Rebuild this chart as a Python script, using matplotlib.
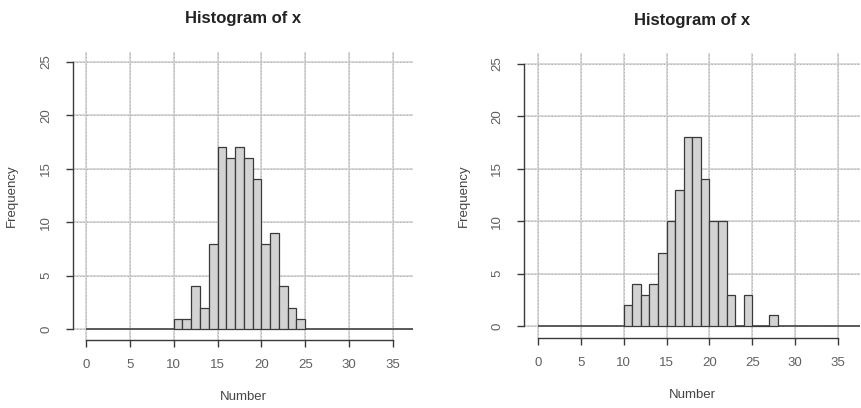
import numpy as np
import matplotlib
matplotlib.use("Agg")
import matplotlib.pyplot as plt

plt.rcParams["font.family"] = ["Liberation Sans", "DejaVu Sans"]

# Histogram bins (unit width) and their frequencies for each panel
left_bin_starts = [10, 11, 12, 13, 14, 15, 16, 17, 18, 19, 20, 21, 22, 23, 24]
left_counts = [1, 1, 4, 2, 8, 17, 16, 17, 16, 14, 8, 9, 4, 2, 1]

right_bin_starts = [10, 11, 12, 13, 14, 15, 16, 17, 18, 19, 20, 21, 22, 23,
                    24, 25, 26, 27]
right_counts = [2, 4, 3, 4, 7, 10, 13, 18, 18, 14, 10, 10, 3, 0, 3, 0, 0, 1]

x_ticks = [0, 5, 10, 15, 20, 25, 30, 35]
y_ticks = [0, 5, 10, 15, 20, 25]
title = "Histogram of x"
x_label = "Number"
y_label = "Frequency"

W, H = 862, 408
fig = plt.figure(figsize=(W / 100, H / 100), dpi=100)


def px_axes(left, top, right, bottom):
    return fig.add_axes([left / W, 1 - bottom / H, (right - left) / W,
                         (bottom - top) / H])


def draw_panel(ax, starts, counts, xlim, ylim, title_pad, ylab_x):
    ax.set_xlim(*xlim)
    ax.set_ylim(*ylim)
    # grid: light solid line with a dotted overlay
    for xv in x_ticks:
        ax.axvline(xv, color="#d6d6d6", lw=1.3, zorder=0)
        ax.axvline(xv, color="#acacac", lw=0.7, ls=(0, (1, 2.5)), zorder=0.5)
    for yv in y_ticks:
        ax.axhline(yv, color="#d6d6d6", lw=1.3, zorder=0)
        ax.axhline(yv, color="#acacac", lw=0.7, ls=(0, (1, 2.5)), zorder=0.5)
    # baseline at zero
    ax.plot([0, xlim[1]], [0, 0], color="#3a3a3a", lw=1.1, zorder=1,
            solid_capstyle="butt")
    ax.bar(starts, counts, width=1, align="edge", color="#d3d3d3",
           edgecolor="#3a3a3a", linewidth=0.9, zorder=2)

    for s in ("top", "right"):
        ax.spines[s].set_visible(False)
    for s in ("left", "bottom"):
        ax.spines[s].set_color("#3a3a3a")
        ax.spines[s].set_linewidth(1.0)
    ax.spines["left"].set_bounds(0, 25)
    ax.spines["bottom"].set_bounds(0, 35)
    ax.set_xticks(x_ticks)
    ax.set_yticks(y_ticks)
    ax.set_yticklabels([str(v) for v in y_ticks], rotation=90, va="center")
    ax.tick_params(axis="both", direction="out", length=5, width=1.0,
                   color="#3a3a3a", labelsize=9.5, labelcolor="#606060")
    ax.tick_params(axis="x", pad=9)
    ax.tick_params(axis="y", pad=10)
    ax.set_title(title, fontsize=12, fontweight="bold", color="#222222",
                 pad=title_pad)
    ax.set_xlabel(x_label, fontsize=9.5, color="#444444", labelpad=14)
    ax.set_ylabel(y_label, fontsize=9.5, color="#444444")
    ax.yaxis.set_label_coords(ylab_x, 0.5)


ax1 = px_axes(73, 52, 413, 340)
draw_panel(ax1, left_bin_starts, left_counts, (-1.48, 37.29), (-1.0, 25.9),
           21, (18 - 73) / (413 - 73))

ax2 = px_axes(524, 53, 860, 338)
draw_panel(ax2, right_bin_starts, right_counts, (-1.63, 37.57),
           (-1.15, 26.05), 20, (470 - 524) / (860 - 524))

fig.savefig("out.png", dpi=100)
